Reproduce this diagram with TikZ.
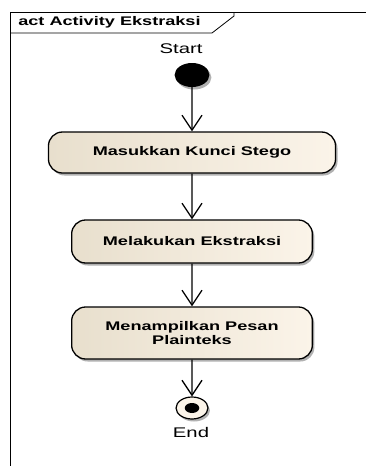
\documentclass[tikz,border=0pt]{standalone}
\usepackage{fontspec}
\setmainfont{Liberation Sans}
\usepackage{tikz}
\usetikzlibrary{arrows.meta,shadows}
\definecolor{ActLeft}{HTML}{E8DFCD}
\definecolor{ActRight}{HTML}{FBF4E9}
\definecolor{Shade}{HTML}{A8A8A8}

\begin{document}
\begin{tikzpicture}[x=1pt,y=-1pt,line join=miter,>={Straight Barb[length=15pt,width=20pt]},
  wide/.style={xscale=1.45,inner sep=0pt},
  shd/.style={drop shadow={shadow xshift=2pt,shadow yshift=-2.5pt,fill=Shade,opacity=0.9}},
  action/.style={wide,shd,draw,line width=1.3pt,rounded corners=14pt,left color=ActLeft,right color=ActRight,
    align=center,font=\fontsize{12.5}{14}\selectfont\bfseries},
  lbl/.style={wide,font=\fontsize{14}{16}\selectfont}]
  \useasboundingbox (0,0) rectangle (366,466);
  % frame and its tab
  \draw[line width=0.8pt] (366,12) -- (10,12) -- (10,466);
  \draw[line width=0.8pt] (10,33) -- (212,33) -- (234,16) -- (234,12);
  \node[wide,anchor=west,font=\fontsize{12.5}{14}\selectfont\bfseries] (title) at (18,22.5) {act Activity Ekstraksi};
  % start and end
  \node[lbl] (startlbl) at (181,49) {Start};
  \node[wide,shd,circle,fill=black,minimum size=24pt] (start) at (192,75) {};
  \node[wide,shd,circle,draw,line width=1.2pt,fill=ActRight,minimum size=22pt] (end) at (192,408) {};
  \node[wide,circle,fill=black,minimum size=10pt] (enddot) at (end) {};
  \node[lbl] (endlbl) at (191,432) {End};
  % actions
  \node[action,minimum width=198pt,minimum height=41pt] (act1) at (192,152.5) {Masukkan Kunci Stego};
  \node[action,minimum width=166pt,minimum height=43pt] (act2) at (192,241.5) {Melakukan Ekstraksi};
  \node[action,minimum width=166pt,minimum height=52pt] (act3) at (192,333) {Menampilkan Pesan\\Plainteks};
  \foreach \a/\b in {start/act1,act1/act2,act2/act3,act3/end} \draw[->,line width=1.3pt] (\a) -- (\b);
\end{tikzpicture}
\end{document}
